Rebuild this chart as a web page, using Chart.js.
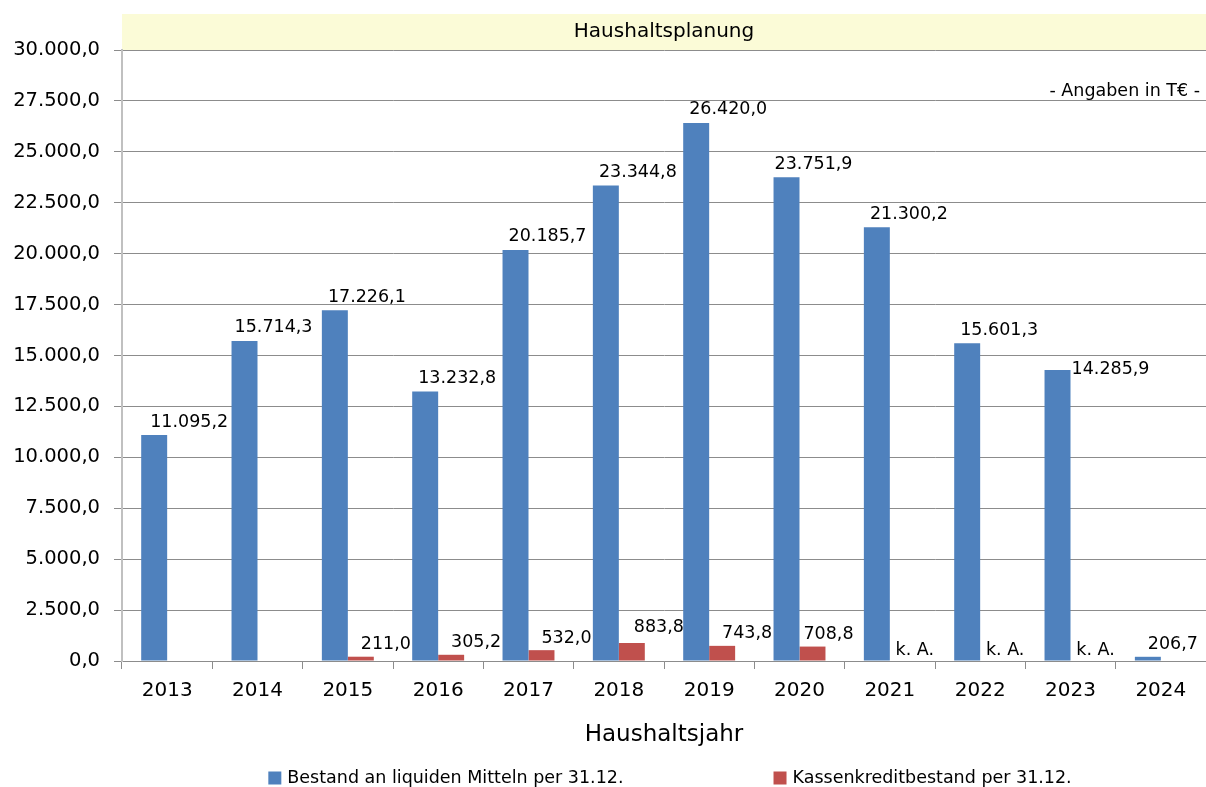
<!DOCTYPE html>
<html>
<head>
<meta charset="utf-8">
<title>Haushaltsplanung</title>
<script src="https://cdn.jsdelivr.net/npm/chart.js@4.4.0/dist/chart.umd.min.js"></script>
<style>
html, body { margin: 0; padding: 0; background: #fff; overflow: hidden; }
#wrap { width: 1206px; height: 787px; }
</style>
</head>
<body>
<div id="wrap"><canvas id="chart" width="1206" height="787"></canvas></div>
<script>
// ============================
// Data (T€)
// ============================
const years = ['2013', '2014', '2015', '2016', '2017', '2018', '2019', '2020', '2021', '2022', '2023', '2024'];
const liquideMittel = [11095.2, 15714.3, 17226.1, 13232.8, 20185.7, 23344.8, 26420.0, 23751.9, 21300.2, 15601.3, 14285.9, 206.7];
const kassenkredit  = [null, null, 211.0, 305.2, 532.0, 883.8, 743.8, 708.8, null, null, null, null];
const keineAngabe   = ['2021', '2022', '2023'];   // red series: "k. A."
const yMax  = 30000;
const yStep = 2500;

const seriesNames = ['Bestand an liquiden Mitteln per 31.12.', 'Kassenkreditbestand per 31.12.'];

// ============================
// Styling
// ============================
const FONT  = 'DejaVu Sans';
const BLUE  = '#4F81BD';
const RED   = '#C0504D';
const GRID  = '#8C8C8C';
const TITLE_BG = '#FBFBD7';

// label placement relative to the bar top (manual nudges like in the Excel original)
const labelOffset = [[32, -13], [25, -12]];
const labelNudge  = { '2013': [3, 0], '2014': [-3, 0], '2020': [-5, 0], '2023': [21, 12], '2024': [-7, 1] };
const redNudge    = { '2018': [2, -4], '2020': [-9, 0] };

// 30000 -> "30.000,0"
function fmt(v) {
    const parts = v.toFixed(1).split('.');
    return parts[0].replace(/\B(?=(\d{3})+(?!\d))/g, '.') + ',' + parts[1];
}

// ============================
// Plugins: title band, value labels, legend
// ============================
const decorPlugin = {
    id: 'decor',
    beforeDraw(chart) {
        const { ctx, chartArea } = chart;
        ctx.save();
        ctx.fillStyle = TITLE_BG;
        ctx.fillRect(chartArea.left, 14, chartArea.right - chartArea.left, chartArea.top - 14);
        ctx.fillStyle = '#000';
        ctx.font = '20px "' + FONT + '"';
        ctx.textAlign = 'center';
        ctx.textBaseline = 'middle';
        ctx.fillText('Haushaltsplanung', (chartArea.left + chartArea.right) / 2, (14 + chartArea.top) / 2);
        ctx.restore();
    },
    afterDraw(chart) {
        const { ctx, chartArea } = chart;
        ctx.save();
        ctx.fillStyle = '#000';
        ctx.font = '17.5px "' + FONT + '"';
        ctx.textBaseline = 'middle';

        // unit hint
        ctx.textAlign = 'right';
        ctx.fillText('- Angaben in T€ -', chartArea.right - 6, 91);

        // value labels
        ctx.textAlign = 'center';
        chart.data.datasets.forEach((ds, di) => {
            const meta = chart.getDatasetMeta(di);
            meta.data.forEach((bar, i) => {
                const year = years[i];
                const v = ds.data[i];
                if (v === null) {
                    if (di === 1 && keineAngabe.includes(year)) {
                        ctx.fillText('k. A.', bar.x + 12, chartArea.bottom - 11);
                    }
                    return;
                }
                const nudge = (di === 0 ? labelNudge : redNudge)[year] || [0, 0];
                ctx.fillText(fmt(v), bar.x + labelOffset[di][0] + nudge[0], bar.y + labelOffset[di][1] + nudge[1]);
            });
        });

        // legend (wide gap like the Excel legend)
        const box = 13, gap = 6, spacing = 150;
        const w0 = ctx.measureText(seriesNames[0]).width;
        const w1 = ctx.measureText(seriesNames[1]).width;
        const total = box + gap + w0 + spacing + box + gap + w1;
        let x = (chartArea.left + chartArea.right) / 2 - total / 2 + 6;
        const y = 778;
        ctx.textAlign = 'left';
        [BLUE, RED].forEach((c, k) => {
            ctx.fillStyle = c;
            ctx.fillRect(x, y - box / 2, box, box);
            x += box + gap;
            ctx.fillStyle = '#000';
            ctx.fillText(seriesNames[k], x, y);
            x += (k === 0 ? w0 : w1) + spacing;
        });
        ctx.restore();
    }
};

// ============================
// Chart
// ============================
const ctx = document.getElementById('chart').getContext('2d');

new Chart(ctx, {
    type: 'bar',
    data: {
        labels: years,
        datasets: [
            { label: seriesNames[0], data: liquideMittel, backgroundColor: BLUE, borderWidth: 0 },
            { label: seriesNames[1], data: kassenkredit,  backgroundColor: RED,  borderWidth: 0 }
        ]
    },
    options: {
        responsive: false,
        animation: false,
        categoryPercentage: 0.575,
        barPercentage: 1.0,
        layout: { padding: { top: 50, left: 0, right: 0, bottom: 0 } },
        plugins: {
            legend: { display: false },
            tooltip: { enabled: false },
            title: { display: false }
        },
        scales: {
            x: {
                grid: { offset: true, drawOnChartArea: false, drawTicks: true, tickLength: 8, color: GRID },
                border: { color: GRID },
                ticks: { color: '#000', padding: 10, font: { family: FONT, size: 20 } },
                title: {
                    display: true,
                    text: 'Haushaltsjahr',
                    color: '#000',
                    font: { family: FONT, size: 23 },
                    padding: { top: 4, bottom: 38 }
                },
                afterFit(scale) { scale.height = 126; }
            },
            y: {
                min: 0,
                max: yMax,
                grid: { color: GRID, tickLength: 8 },
                border: { color: '#C0C0C0', width: 2 },
                ticks: {
                    stepSize: yStep,
                    color: '#000',
                    padding: 14,
                    font: { family: FONT, size: 19.5 },
                    callback: (v) => fmt(v)
                },
                afterFit(scale) { scale.width = 122; }
            }
        }
    },
    plugins: [decorPlugin]
});
</script>
</body>
</html>
